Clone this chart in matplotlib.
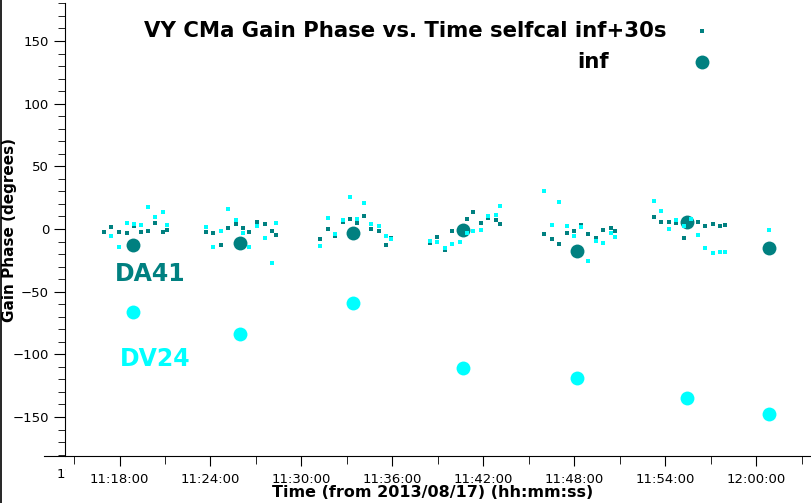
import numpy as np
import pandas as pd
import matplotlib
matplotlib.use("Agg")
import matplotlib.pyplot as plt
import matplotlib.dates as mdates
from matplotlib.lines import Line2D
from matplotlib.transforms import Bbox, TransformedBbox

day = "2013-08-17 "

# 30 s solutions (selfcal inf+30s), shared time stamps
times_30s = [
    "11:16:57", "11:17:26", "11:17:58", "11:18:30", "11:18:57", "11:19:25", "11:19:53", "11:20:21", "11:20:52", "11:21:08",
    "11:23:41", "11:24:10", "11:24:42", "11:25:10", "11:25:41", "11:26:09", "11:26:33", "11:27:04", "11:27:36", "11:28:04", "11:28:20",
    "11:31:13", "11:31:44", "11:32:13", "11:32:45", "11:33:13", "11:33:40", "11:34:08", "11:34:36", "11:35:07", "11:35:35", "11:35:55",
    "11:38:29", "11:38:56", "11:39:29", "11:39:55", "11:40:28", "11:40:55", "11:41:20", "11:41:50", "11:42:18", "11:42:49", "11:43:05",
    "11:45:59", "11:46:31", "11:46:59", "11:47:30", "11:47:58", "11:48:26", "11:48:54", "11:49:25", "11:49:53", "11:50:25", "11:50:41",
    "11:53:15", "11:53:43", "11:54:14", "11:54:42", "11:55:14", "11:55:43", "11:56:09", "11:56:37", "11:57:09", "11:57:36", "11:57:57",
    "12:00:50",
]
da41_30s = [
    -2.1, 1.9, -2.1, -2.9, 2.4, -2.1, -1.3, 5.1, -2.1, -0.5,
    -2.1, -2.9, -12.5, 1.1, 4.3, 1.1, -2.1, 5.9, 4.3, -1.3, -4.5,
    -7.7, 0.3, -5.3, 5.9, 8.3, 5.1, 10.7, 0.3, -1.3, -12.5, -6.9,
    -11.4, -6.1, -16.8, -1.3, -0.3, 8.3, 13.8, 5.1, 8.5, 7.5, 4.3,
    -3.7, -7.7, -11.7, -2.9, -1.3, 3.5, -3.7, -6.9, -0.5, 1.1, -1.3,
    9.8, 5.9, 5.9, 5.1, -6.9, 5.3, 5.9, 2.7, 4.3, 2.7, 3.5,
    np.nan,
]
dv24_30s = [
    np.nan, -5.3, -14.1, 5.1, 4.3, 3.5, 17.8, 9.8, 13.8, 3.5,
    1.9, -14.1, -1.3, 16.2, 7.5, -2.9, -14.1, 2.7, -6.9, -26.9, 5.1,
    -13.3, 9.1, -3.7, 7.5, 25.8, 8.3, 21.0, 4.3, 2.7, -5.3, -7.7,
    -9.6, -10.1, -14.9, -11.7, -10.1, -3.4, -1.3, -0.5, 10.7, 11.5, 18.6,
    30.6, 3.5, 21.8, 2.7, -5.3, 1.9, -25.3, -9.3, -10.9, -2.9, -6.1,
    22.6, 14.6, 0.3, 7.5, 2.7, 8.3, -4.5, -14.9, -18.9, -18.1, -18.1,
    -0.5,
]

# scan-length solutions (selfcal inf)
times_inf = ["11:18:54", "11:25:55", "11:33:26", "11:40:41", "11:48:12", "11:55:28", "12:00:50"]
da41_inf = [-13.0, -11.4, -3.4, -1.0, -17.8, 5.3, -15.4]
dv24_inf = [-66.5, -84.0, -59.3, -111.1, -119.1, -135.1, -147.9]

teal = "#008080"
cyan = "#00ffff"

t30 = pd.to_datetime([day + t for t in times_30s])
tinf = pd.to_datetime([day + t for t in times_inf])

W, H = 811, 503
fig = plt.figure(figsize=(W / 100, H / 100), dpi=100)
ax_left, ax_right, ax_top, ax_bot = 44, 822, 3, 456
ax = fig.add_axes([ax_left / W, (H - ax_bot) / H, (ax_right - ax_left) / W, (ax_bot - ax_top) / H])

ax.plot(t30, da41_30s, "s", color=teal, ms=3, mew=0)
ax.plot(tinf, da41_inf, "o", color=teal, ms=10, mew=0)
ax.plot(t30, dv24_30s, "s", color=cyan, ms=3, mew=0)
ax.plot(tinf, dv24_inf, "o", color=cyan, ms=10, mew=0)

ax.set_xlim(pd.Timestamp(day + "11:13:01"), pd.Timestamp(day + "12:04:21"))
ax.set_ylim(-181.1, 180.3)

ax.spines["top"].set_visible(False)
ax.spines["right"].set_visible(False)
ax.spines["left"].set_position(("axes", (65 - ax_left) / (ax_right - ax_left)))

ax.xaxis.set_major_locator(mdates.MinuteLocator(byminute=range(0, 60, 6)))
ax.xaxis.set_minor_locator(mdates.MinuteLocator(byminute=range(0, 60, 3)))
ax.xaxis.set_major_formatter(mdates.DateFormatter("%H:%M:%S"))
ax.yaxis.set_major_locator(plt.MultipleLocator(50))
ax.yaxis.set_minor_locator(plt.MultipleLocator(10))

ax.tick_params(axis="x", which="major", length=7, pad=5, labelsize=9.5)
ax.tick_params(axis="x", which="minor", length=6)
ax.tick_params(axis="y", which="major", length=8, pad=3.5, labelsize=9.5)
ax.tick_params(axis="y", which="minor", length=5)

ax.set_xlabel("Time (from 2013/08/17) (hh:mm:ss)", fontsize=11.5, fontweight="bold")
ax.xaxis.set_label_coords((433 - ax_left) / (ax_right - ax_left), -0.064)
ax.set_ylabel("Gain Phase (degrees)", fontsize=11, fontweight="bold")
ax.yaxis.set_label_coords((17 - ax_left) / (ax_right - ax_left), 0.5)

# clipped leftover of the 11:12:00 tick label
lab = fig.text(57 / W, 1 - 475 / H, "11", fontsize=9.5, ha="left", va="center")
lab.set_clip_box(TransformedBbox(Bbox([[0, 0], [66 / W, 1]]), fig.transFigure))
lab.set_clip_on(True)

fig.text(115 / W, 1 - 274 / H, "DA41", fontsize=17, fontweight="bold", color=teal, va="center")
fig.text(120 / W, 1 - 359 / H, "DV24", fontsize=17, fontweight="bold", color=cyan, va="center")

# legend: text at left, marker keys at right
fig.text(666 / W, 1 - 31 / H, "VY CMa Gain Phase vs. Time selfcal inf+30s", fontsize=15.3,
         fontweight="bold", ha="right", va="center")
fig.text(577 / W, 1 - 62 / H, "inf", fontsize=15.3, fontweight="bold", ha="left", va="center")
handles = [
    Line2D([], [], ls="none", marker="s", ms=3, mew=0, color=teal),
    Line2D([], [], ls="none", marker="o", ms=10, mew=0, color=teal),
]
ax.legend(handles, ["", ""], markerfirst=False, frameon=False, loc="upper right",
          bbox_to_anchor=(713 / W, 1 - 23 / H), bbox_transform=fig.transFigure,
          prop={"size": 15.5, "weight": "bold"}, handlelength=1.0, handletextpad=0,
          labelspacing=0.48, borderpad=0, borderaxespad=0)

fig.add_artist(Line2D([0.5 / W, 0.5 / W], [0, 1], transform=fig.transFigure, color="black", lw=1.2))

fig.savefig("out.png", dpi=100)
